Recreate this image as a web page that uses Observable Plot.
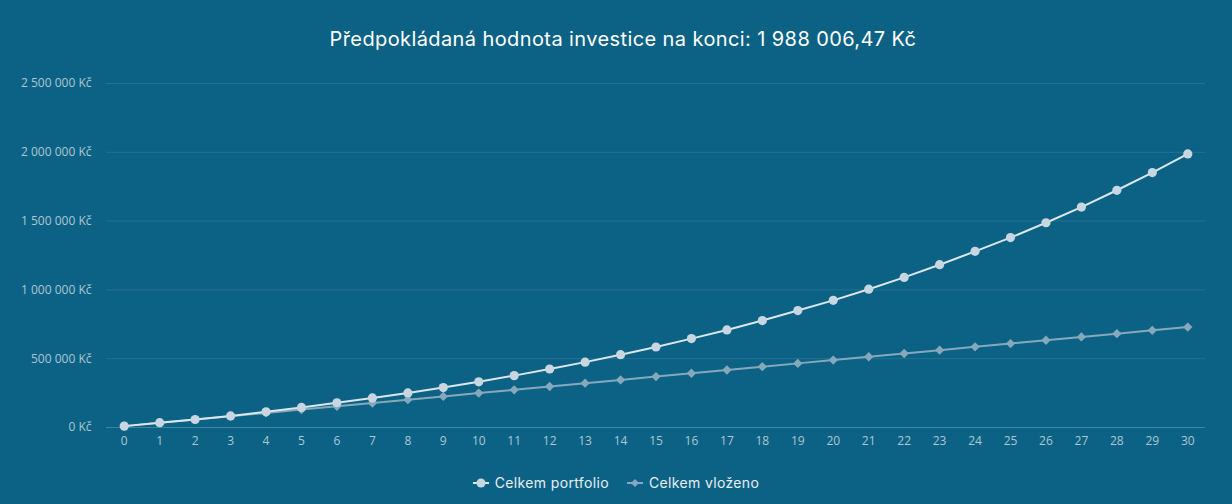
<!DOCTYPE html>
<html>
<head>
<meta charset="utf-8">
<script src="https://cdn.jsdelivr.net/npm/d3@7"></script>
<script src="https://cdn.jsdelivr.net/npm/@observablehq/plot@0.6"></script>
<style>
  html, body { margin: 0; padding: 0; }
  body { width: 1232px; height: 504px; background: #0c6284; overflow: hidden; }
  #title { height: 66px; box-sizing: border-box; padding-top: 28px; padding-left: 14px; text-align: center;
           font-family: "Inter", "Lato", sans-serif; font-size: 20px; letter-spacing: 0.4px; line-height: 22px; color: #ffffff; }
  #chart { height: 394px; }
  #legend { height: 44px; box-sizing: border-box; padding-top: 11px; display: flex; justify-content: center;
            font-family: "Inter", "Lato", sans-serif; font-size: 14px; letter-spacing: 0.35px; line-height: 20px; color: #e8eff4; }
  .item { display: flex; align-items: center; margin: 0 9px; margin-top: -10px; }
  .item svg { margin-right: 6px; }
</style>
</head>
<body>
<div id="title">Předpokládaná hodnota investice na konci: 1 988 006,47 Kč</div>
<div id="chart"></div>
<div id="legend"></div>
<script>
const years = [0,1,2,3,4,5,6,7,8,9,10,11,12,13,14,15,16,17,18,19,20,21,22,23,24,25,26,27,28,29,30];
const portfolio = [10000, 35000, 58000, 84000, 114000, 146000, 180000, 215000, 251000, 290000,
  332000, 377000, 425000, 475000, 529000, 585000, 646000, 709000, 777000, 850000,
  924000, 1005000, 1091000, 1183000, 1280000, 1380000, 1488000, 1602000, 1724000, 1853000, 1988006.47];
const vlozeno = [10000, 34000, 58000, 82000, 106000, 130000, 154000, 178000, 202000, 226000,
  250000, 274000, 298000, 322000, 346000, 370000, 394000, 418000, 442000, 466000,
  490000, 514000, 538000, 562000, 586000, 610000, 634000, 658000, 682000, 706000, 730000];
const yTicks = [0, 500000, 1000000, 1500000, 2000000, 2500000];
const seriesNames = ["Celkem portfolio", "Celkem vloženo"];

const cz = d3.formatLocale({decimal: ",", thousands: " ", grouping: [3], currency: ["", " Kč"]});
const fmtKc = v => cz.format(",.0f")(v) + " Kč";

const dataP = years.map((y, i) => ({year: y, value: portfolio[i]}));
const dataV = years.map((y, i) => ({year: y, value: vlozeno[i]}));

const colP = "#dce6ed", colPdot = "#c7d6e1";
const colV = "#86a8bd";
const axisCol = "#acc6d4";

const plot = Plot.plot({
  width: 1232,
  height: 394,
  marginLeft: 106,
  marginRight: 27,
  marginTop: 17,
  marginBottom: 33,
  style: {background: "transparent", fontFamily: "'Open Sans', sans-serif", fontSize: "12px", color: axisCol},
  x: {domain: [-0.5, 30.5], ticks: years, tickFormat: d => String(d), tickSize: 0, tickPadding: 10, label: null},
  y: {domain: [0, 2500000], ticks: yTicks, tickFormat: fmtKc, tickSize: 0, tickPadding: 15, label: null},
  marks: [
    Plot.ruleY(yTicks.filter(d => d > 0), {stroke: "#ffffff", strokeOpacity: 0.1, strokeWidth: 1}),
    Plot.ruleY([0], {stroke: "#ffffff", strokeOpacity: 0.22, strokeWidth: 1}),
    Plot.axisX({ticks: years, tickFormat: d => String(d), tickSize: 0, tickPadding: 9, fill: axisCol, label: null}),
    Plot.axisY({ticks: yTicks, tickFormat: fmtKc, tickSize: 0, tickPadding: 15, fill: axisCol, label: null}),
    Plot.line(dataV, {x: "year", y: "value", stroke: colV, strokeWidth: 2}),
    Plot.dot(dataV, {x: "year", y: "value", symbol: "diamond2", r: 4.2, fill: colV, stroke: "none"}),
    Plot.line(dataP, {x: "year", y: "value", stroke: colP, strokeWidth: 2}),
    Plot.dot(dataP, {x: "year", y: "value", symbol: "circle", r: 4.6, fill: colPdot, stroke: "none"})
  ]
});
document.getElementById("chart").appendChild(plot);

const legend = document.getElementById("legend");
const sym = [
  `<svg width="16" height="12"><line x1="0" y1="6" x2="16" y2="6" stroke="${colP}" stroke-width="2"/><circle cx="8" cy="6" r="4.5" fill="${colPdot}"/></svg>`,
  `<svg width="16" height="12"><line x1="0" y1="6" x2="16" y2="6" stroke="${colV}" stroke-width="2"/><path d="M8 2 L12 6 L8 10 L4 6 Z" fill="${colV}"/></svg>`
];
seriesNames.forEach((n, i) => {
  const d = document.createElement("div");
  d.className = "item";
  d.innerHTML = sym[i] + `<span>${n}</span>`;
  legend.appendChild(d);
});
</script>
</body>
</html>
